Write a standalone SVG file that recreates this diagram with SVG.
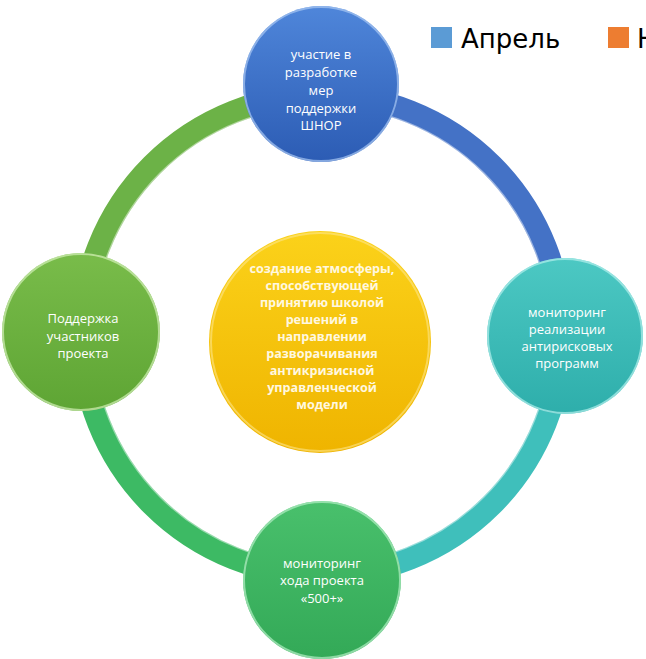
<svg xmlns="http://www.w3.org/2000/svg" width="646" height="659" viewBox="0 0 646 659">
<defs>
<style>
.ring{fill:none;stroke-width:23;stroke-linecap:butt}
.hl{fill:none;stroke:#ffffff;stroke-opacity:0.45;stroke-width:1.5}
.lbl{font-family:"Open Sans","Liberation Sans",sans-serif;font-size:13px;fill:#ffffff;text-anchor:middle}
.lblb{font-family:"Open Sans","Liberation Sans",sans-serif;font-size:12.6px;font-weight:bold;fill:#fff8e0;text-anchor:middle}
.leg{font-family:"DejaVu Sans","Liberation Sans",sans-serif;font-size:26px;fill:#000000}
.edge{fill:none;stroke-width:2}
</style>
<linearGradient id="gBlue" x1="0" y1="0" x2="0" y2="1">
<stop offset="0" stop-color="#4f86da"/><stop offset="1" stop-color="#2c5cb4"/>
</linearGradient>
<linearGradient id="gTeal" x1="0" y1="0" x2="0" y2="1">
<stop offset="0" stop-color="#4cc8c3"/><stop offset="1" stop-color="#2eaeab"/>
</linearGradient>
<linearGradient id="gGreen" x1="0" y1="0" x2="0" y2="1">
<stop offset="0" stop-color="#49c06c"/><stop offset="1" stop-color="#33a957"/>
</linearGradient>
<linearGradient id="gLime" x1="0" y1="0" x2="0" y2="1">
<stop offset="0" stop-color="#79bc4a"/><stop offset="1" stop-color="#5ea534"/>
</linearGradient>
<linearGradient id="gYellow" x1="0" y1="0" x2="0" y2="1">
<stop offset="0" stop-color="#fbd21a"/><stop offset="1" stop-color="#efb400"/>
</linearGradient>
</defs>

<g id="connectors">
<path class="ring" stroke="#4472c6" d="M322,95 A240,240 0 0 1 562,335"/>
<path class="ring" stroke="#3fbfbb" d="M562,335 A240,240 0 0 1 322,575"/>
<path class="ring" stroke="#3dba64" d="M322,575 A240,240 0 0 1 82,335"/>
<path class="ring" stroke="#6cb247" d="M82,335 A240,240 0 0 1 322,95"/>
<circle class="hl" cx="322" cy="335" r="229"/>
</g>

<g id="legend">
<rect x="431" y="27" width="21" height="21" fill="#5b9bd5"/>
<text class="leg" x="461" y="48">Апрель</text>
<rect x="608" y="27" width="21" height="21" fill="#ed7d31"/>
<text class="leg" x="637" y="48">Н</text>
</g>

<g id="node-center">
<circle cx="320" cy="342" r="111" fill="url(#gYellow)"/>
<circle class="edge" cx="320" cy="342" r="109" stroke="#fde68a" stroke-opacity="0.6"/>
<text class="lblb" x="322" y="273">создание атмосферы,</text>
<text class="lblb" x="322" y="290">способствующей</text>
<text class="lblb" x="322" y="307">принятию школой</text>
<text class="lblb" x="322" y="324">решений в</text>
<text class="lblb" x="322" y="341">направлении</text>
<text class="lblb" x="322" y="358">разворачивания</text>
<text class="lblb" x="322" y="375">антикризисной</text>
<text class="lblb" x="322" y="392">управленческой</text>
<text class="lblb" x="322" y="409">модели</text>
</g>

<g id="node-top">
<circle cx="321" cy="84" r="78" fill="url(#gBlue)"/>
<circle class="edge" cx="321" cy="84" r="77" stroke="#a9c8f2" stroke-opacity="0.7"/>
<text class="lbl" x="321" y="59">участие в</text>
<text class="lbl" x="321" y="77">разработке</text>
<text class="lbl" x="321" y="95">мер</text>
<text class="lbl" x="321" y="113">поддержки</text>
<text class="lbl" x="321" y="130">ШНОР</text>
</g>

<g id="node-right">
<circle cx="565" cy="336" r="78" fill="url(#gTeal)"/>
<circle class="edge" cx="565" cy="336" r="77" stroke="#b4efec" stroke-opacity="0.7"/>
<text class="lbl" x="567" y="317">мониторинг</text>
<text class="lbl" x="567" y="334">реализации</text>
<text class="lbl" x="567" y="351">антирисковых</text>
<text class="lbl" x="567" y="368">программ</text>
</g>

<g id="node-bottom">
<circle cx="322" cy="580" r="79" fill="url(#gGreen)"/>
<circle class="edge" cx="322" cy="580" r="78" stroke="#b3eec4" stroke-opacity="0.7"/>
<text class="lbl" x="322" y="568">мониторинг</text>
<text class="lbl" x="322" y="585">хода проекта</text>
<text class="lbl" x="322" y="603">«500+»</text>
</g>

<g id="node-left">
<circle cx="81" cy="332" r="79" fill="url(#gLime)"/>
<circle class="edge" cx="81" cy="332" r="78" stroke="#d3f0b8" stroke-opacity="0.7"/>
<text class="lbl" x="83" y="323">Поддержка</text>
<text class="lbl" x="83" y="341">участников</text>
<text class="lbl" x="83" y="358">проекта</text>
</g>
</svg>
